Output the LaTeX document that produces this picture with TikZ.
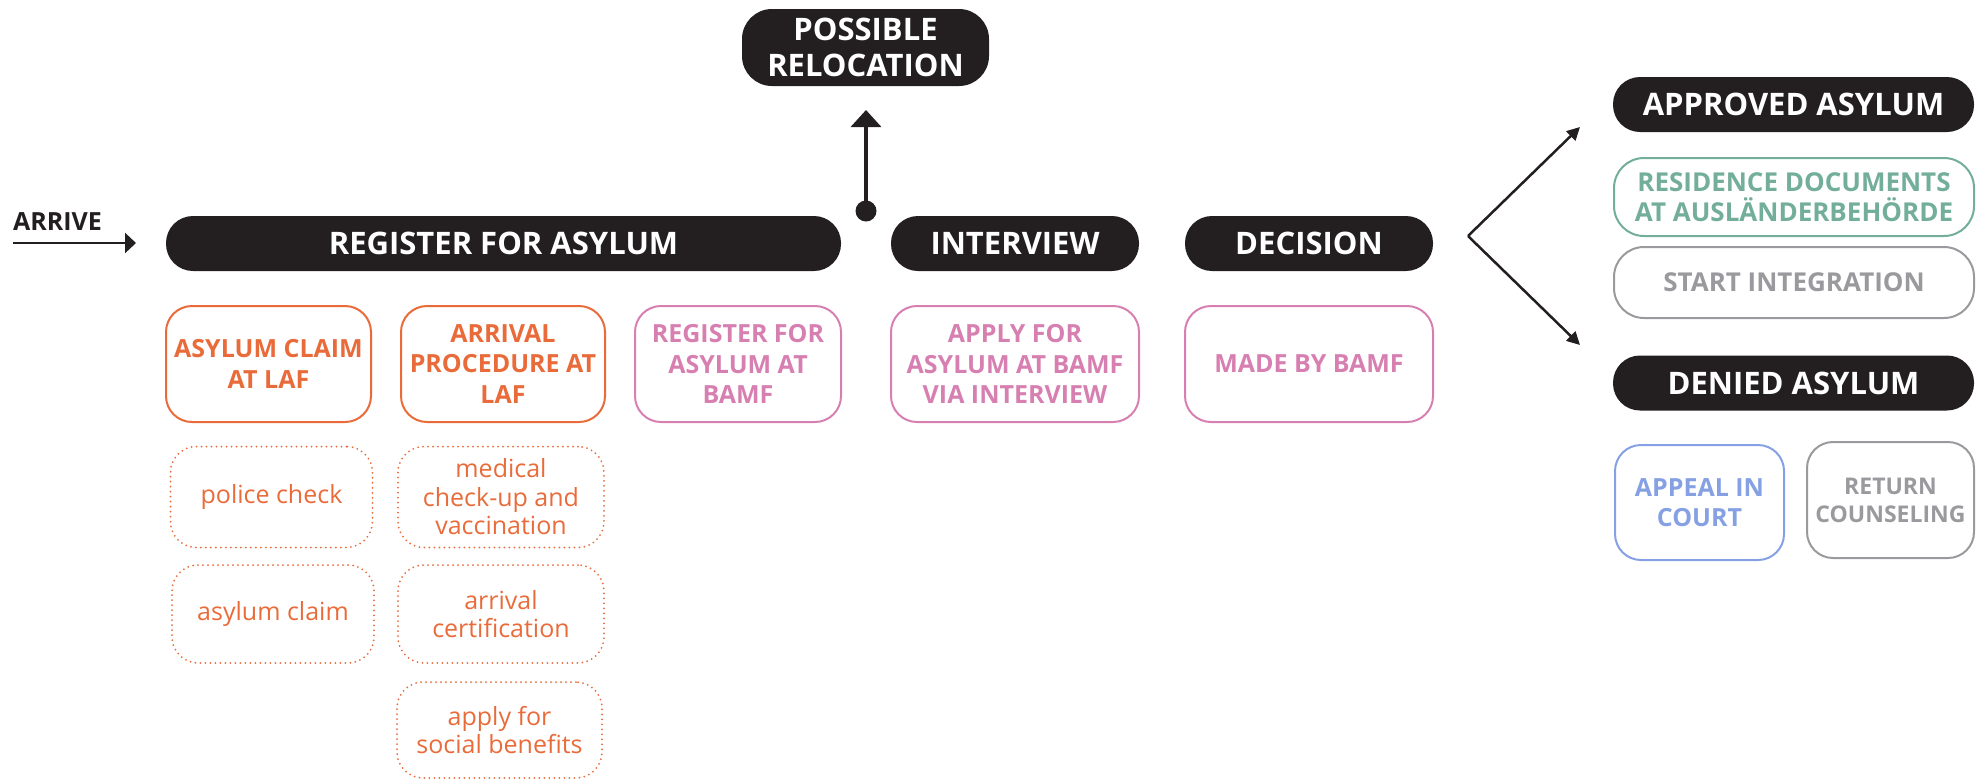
\documentclass[tikz,border=0pt]{standalone}
\usepackage{fontspec}
\setmainfont{Open Sans}
\usetikzlibrary{arrows.meta}
\definecolor{ink}{HTML}{231F20}
\definecolor{orng}{HTML}{E96B3A}
\definecolor{pnk}{HTML}{D77FB1}
\definecolor{grn}{HTML}{72AE99}
\definecolor{gry}{HTML}{9A9A9E}
\definecolor{blu}{HTML}{86A1E3}
\tikzset{
  pill/.style={fill=ink, text=white, rounded corners=27pt, minimum height=55pt,
    inner sep=0pt, align=center, font=\bfseries\fontsize{31}{36}\selectfont},
  cbox/.style={draw=#1, text=#1, line width=2pt, rounded corners=26pt, inner sep=0pt,
    align=center, font=\bfseries\fontsize{25}{30.5}\selectfont},
  dbox/.style={draw=orng, text=orng, line width=2pt, line cap=round,
    dash pattern=on 0pt off 5pt, rounded corners=26pt, inner sep=0pt,
    align=center, font=\fontsize{25}{28.5}\selectfont},
  conn/.style={draw=ink, line width=2.5pt},
}
\begin{document}
\begin{tikzpicture}[x=1pt,y=-1pt]
\useasboundingbox (0,0) rectangle (1988,780);
% top row pills
\node[pill, minimum width=247pt, minimum height=77pt, rounded corners=30pt] (reloc) at (865.5,47.5) {POSSIBLE\\RELOCATION};
\node[pill, minimum width=675pt] (register) at (503.5,243.5) {REGISTER FOR ASYLUM};
\node[pill, minimum width=248pt] (interview) at (1015,243.5) {INTERVIEW};
\node[pill, minimum width=248pt] (decision) at (1309,243.5) {DECISION};
% arrive
\node[anchor=west, inner sep=0pt, font=\bfseries\fontsize{25}{28}\selectfont, text=ink] (arrive) at (13,222) {ARRIVE};
\coordinate (a0) at (13,243);
\coordinate (a1) at (136,243);
\draw[conn, -{Triangle[length=11pt,width=20pt]}] (a0) -- (a1);
% relocation arrow
\node[circle, fill=ink, inner sep=0pt, minimum size=21pt] (dot) at (866,211) {};
\coordinate (rtip) at (866,110);
\draw[draw=ink, line width=3.5pt, -{Triangle[length=17pt,width=30pt]}] (dot.center) -- (rtip);
% orange / pink boxes
\node[cbox=orng, minimum width=205pt, minimum height=116pt] (claim) at (268.5,364) {ASYLUM CLAIM\\AT LAF};
\node[cbox=orng, minimum width=204pt, minimum height=116pt] (arrproc) at (503,364) {ARRIVAL\\PROCEDURE AT\\LAF};
\node[cbox=pnk, minimum width=206pt, minimum height=116pt] (regbamf) at (738,364) {REGISTER FOR\\ASYLUM AT\\BAMF};
\node[cbox=pnk, minimum width=248pt, minimum height=116pt] (apply) at (1015,364) {APPLY FOR\\ASYLUM AT BAMF\\VIA INTERVIEW};
\node[cbox=pnk, minimum width=248pt, minimum height=116pt] (made) at (1309,364) {MADE BY BAMF};
% dotted boxes
\node[dbox, minimum width=202pt, minimum height=101pt] (police) at (271.5,497) {police check};
\node[dbox, minimum width=202pt, minimum height=98pt] (aclaim) at (273,614) {asylum claim};
\node[dbox, minimum width=206pt, minimum height=101pt] (medical) at (501,497) {medical\\check-up and\\vaccination};
\node[dbox, minimum width=206pt, minimum height=98pt] (certif) at (501,614) {arrival\\certification};
\node[dbox, minimum width=205pt, minimum height=96pt] (social) at (499.5,730) {apply for\\social benefits};
% right side
\coordinate (bv) at (1468,236);
\coordinate (bu) at (1580,127);
\coordinate (bl) at (1580,345);
\draw[conn, -{Triangle[length=13pt,width=13pt]}] (bv) -- (bu);
\draw[conn, -{Triangle[length=13pt,width=13pt]}] (bv) -- (bl);
\node[pill, minimum width=361pt] (approved) at (1793.5,104.5) {APPROVED ASYLUM};
\node[cbox=grn, minimum width=360pt, minimum height=78pt, rounded corners=30pt, font=\bfseries\fontsize{26}{30}\selectfont] (resid) at (1794,197) {RESIDENCE DOCUMENTS\\AT AUSLÄNDERBEHÖRDE};
\node[cbox=gry, minimum width=360pt, minimum height=71pt, rounded corners=30pt, font=\bfseries\fontsize{26}{30}\selectfont] (integ) at (1794,282.5) {START INTEGRATION};
\node[pill, minimum width=361pt] (denied) at (1793.5,383) {DENIED ASYLUM};
\node[cbox=blu, minimum width=169pt, minimum height=115pt] (appeal) at (1699.5,502.5) {APPEAL IN\\COURT};
\node[cbox=gry, minimum width=167pt, minimum height=116pt, font=\bfseries\fontsize{23}{28}\selectfont] (return) at (1890.5,500) {RETURN\\COUNSELING};
\end{tikzpicture}
\end{document}
